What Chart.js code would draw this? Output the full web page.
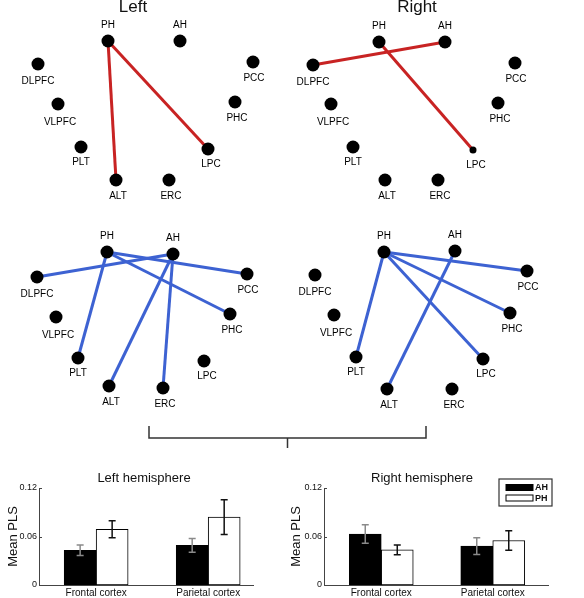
<!DOCTYPE html>
<html>
<head>
<meta charset="utf-8">
<script src="https://cdn.jsdelivr.net/npm/chart.js@4/dist/chart.umd.min.js"></script>
<style>
  body { margin: 0; background: #fff; }
  #wrap { position: relative; width: 584px; height: 598px; overflow: hidden; }
  canvas { position: absolute; }
</style>
</head>
<body>
<div id="wrap">
  <canvas id="netBL" style="left:0;top:210px" width="584" height="250"></canvas>
  <canvas id="netTL" style="left:0;top:0" width="290" height="210"></canvas>
  <canvas id="netTR" style="left:290px;top:0" width="294" height="210"></canvas>
  <canvas id="netBR" style="left:290px;top:210px" width="294" height="210"></canvas>
  <canvas id="barL" style="left:0;top:470px" width="290" height="128"></canvas>
  <canvas id="barR" style="left:278px;top:470px" width="306" height="128"></canvas>
</div>
<script>
// ---- network data (node layout relative to PH, per panel) ----
const nodeNames = ['PH', 'AH', 'PCC', 'PHC', 'LPC', 'ERC', 'ALT', 'PLT', 'VLPFC', 'DLPFC'];
const tlX = [0, 72, 145, 127, 100, 61, 8, -27, -50, -70];
const tlY = [0, 0, 21, 61, 108, 139, 139, 106, 63, 23];
const trX = [0, 66, 136, 119, 94, 59, 6, -26, -48, -66];
const trY = [0, 0, 21, 61, 108, 138, 138, 105, 62, 23];
const blX = [0, 66, 140, 123, 97, 56, 2, -29, -51, -70];
const blY = [0, 2, 22, 62, 109, 136, 134, 106, 65, 25];
const brX = [0, 71, 143, 126, 99, 68, 3, -28, -50, -69];
const brY = [0, -1, 19, 61, 107, 137, 137, 105, 63, 23];

const tlEdges = [['PH', 'ALT'], ['PH', 'LPC']];
const trEdges = [['AH', 'DLPFC'], ['PH', 'LPC']];
const blEdges = [['AH', 'DLPFC'], ['PH', 'PCC'], ['PH', 'PHC'], ['PH', 'PLT'], ['AH', 'ALT'], ['AH', 'ERC']];
const brEdges = [['PH', 'PCC'], ['PH', 'PHC'], ['PH', 'LPC'], ['PH', 'PLT'], ['AH', 'ALT']];

// ---- bar data ----
const categories = ['Frontal cortex', 'Parietal cortex'];
const catPos = [1, 2];
const yTicks = [0, 0.06, 0.12];
const leftAH = [0.043, 0.049];
const leftAHErr = [0.0065, 0.0085];
const leftPH = [0.069, 0.084];
const leftPHErr = [0.0105, 0.0215];
const rightAH = [0.063, 0.048];
const rightAHErr = [0.0115, 0.0103];
const rightPH = [0.0435, 0.055];
const rightPHErr = [0.006, 0.012];

Chart.defaults.font.family = '"Liberation Sans", Arial, sans-serif';
Chart.defaults.color = '#111';

// label offsets (style, px)
const labelDx = [0, 0, 1, 2, 3, 2, 2, 0, 2, 0];
const labelDy = [-16, -16, 16, 16, 15, 16, 16, 15, 18, 17];

const netLabels = {
  id: 'netLabels',
  afterDatasetsDraw(chart, args, opts) {
    const {ctx, scales: {x, y}} = chart;
    ctx.save();
    ctx.fillStyle = '#000';
    ctx.textAlign = 'center';
    ctx.textBaseline = 'middle';
    ctx.font = '10px "Liberation Sans", Arial, sans-serif';
    opts.xs.forEach((nx, i) => {
      ctx.fillText(nodeNames[i], x.getPixelForValue(nx + labelDx[i]), y.getPixelForValue(opts.ys[i] + labelDy[i]));
    });
    if (opts.title) {
      ctx.fillStyle = '#111';
      ctx.font = '17px "Liberation Sans", Arial, sans-serif';
      ctx.fillText(opts.title, x.getPixelForValue(opts.titleX), y.getPixelForValue(opts.titleY));
    }
    if (opts.bracket) {
      const b = opts.bracket;
      ctx.strokeStyle = '#333';
      ctx.lineWidth = 1.5;
      ctx.beginPath();
      ctx.moveTo(b.x1, b.top); ctx.lineTo(b.x1, b.bottom); ctx.lineTo(b.x2, b.bottom); ctx.lineTo(b.x2, b.top);
      ctx.moveTo((b.x1 + b.x2) / 2, b.bottom); ctx.lineTo((b.x1 + b.x2) / 2, b.bottom + 10);
      ctx.stroke();
    }
    ctx.restore();
  }
};

function netChart(id, xs, ys, edges, color, origin, extra) {
  const canvas = document.getElementById(id);
  const idx = n => nodeNames.indexOf(n);
  const small = extra.small || [];
  const datasets = [{
    data: xs.map((v, i) => ({x: v, y: ys[i]})),
    pointRadius: nodeNames.map(n => small.includes(n) ? 3.5 : 6.5),
    pointBackgroundColor: '#000',
    pointBorderWidth: 0
  }];
  edges.forEach(([a, b]) => {
    datasets.push({
      data: [{x: xs[idx(a)], y: ys[idx(a)]}, {x: xs[idx(b)], y: ys[idx(b)]}],
      showLine: true,
      borderColor: color,
      borderWidth: 3,
      pointRadius: 0
    });
  });
  return new Chart(canvas, {
    type: 'scatter',
    data: {datasets},
    options: {
      responsive: false,
      animation: false,
      layout: {padding: 0, autoPadding: false},
      scales: {
        x: {display: false, min: -origin[0], max: canvas.width - origin[0]},
        y: {display: false, reverse: true, min: -origin[1], max: canvas.height - origin[1]}
      },
      plugins: {
        legend: {display: false},
        tooltip: {enabled: false},
        netLabels: Object.assign({xs, ys}, extra)
      }
    },
    plugins: [netLabels]
  });
}

netChart('netTL', tlX, tlY, tlEdges, '#c82323', [108, 41], {title: 'Left', titleX: 25, titleY: -34});
netChart('netTR', trX, trY, trEdges, '#c82323', [89, 42], {title: 'Right', titleX: 38, titleY: -35, small: ['LPC']});
netChart('netBL', blX, blY, blEdges, '#3d62d2', [107, 42], {bracket: {x1: 149, x2: 426, top: 216, bottom: 228}});
netChart('netBR', brX, brY, brEdges, '#3d62d2', [94, 42], {});

// ---- bar charts ----
const barExtras = {
  id: 'barExtras',
  afterDatasetsDraw(chart, args, opts) {
    const {ctx, chartArea, scales: {y}} = chart;
    ctx.save();
    // small inward ticks on the y axis
    ctx.strokeStyle = '#444';
    ctx.lineWidth = 1;
    ctx.beginPath();
    yTicks.forEach(v => {
      const py = Math.round(y.getPixelForValue(v)) + 0.5;
      ctx.moveTo(chartArea.left, py); ctx.lineTo(chartArea.left + 3, py);
    });
    ctx.stroke();
    // error bars
    chart.data.datasets.forEach((ds, d) => {
      const meta = chart.getDatasetMeta(d);
      ctx.strokeStyle = ds.errColor;
      ctx.lineWidth = 1.5;
      meta.data.forEach((bar, i) => {
        const v = ds.data[i].y, e = ds.errors[i];
        const y1 = y.getPixelForValue(v + e), y2 = y.getPixelForValue(v - e);
        ctx.beginPath();
        ctx.moveTo(bar.x, y1); ctx.lineTo(bar.x, y2);
        ctx.moveTo(bar.x - 3.5, y1); ctx.lineTo(bar.x + 3.5, y1);
        ctx.moveTo(bar.x - 3.5, y2); ctx.lineTo(bar.x + 3.5, y2);
        ctx.stroke();
      });
    });
    // title
    ctx.fillStyle = '#111';
    ctx.textAlign = 'center';
    ctx.textBaseline = 'middle';
    ctx.font = '13px "Liberation Sans", Arial, sans-serif';
    ctx.fillText(opts.title, opts.titleX, 8);
    // legend box
    if (opts.legend) {
      const bx = chartArea.right - 49, by = chartArea.top - 9, bw = 53, bh = 27;
      ctx.strokeStyle = '#333';
      ctx.lineWidth = 1.2;
      ctx.strokeRect(bx, by, bw, bh);
      ctx.font = 'bold 9px "Liberation Sans", Arial, sans-serif';
      ctx.textAlign = 'left';
      chart.data.datasets.forEach((ds, d) => {
        const cy = by + 8.5 + d * 10.5;
        ctx.fillStyle = ds.backgroundColor;
        ctx.fillRect(bx + 7, cy - 3, 27, 6);
        ctx.strokeStyle = '#000';
        ctx.lineWidth = 1;
        ctx.strokeRect(bx + 7, cy - 3, 27, 6);
        ctx.fillStyle = '#111';
        ctx.fillText(ds.label, bx + 36, cy + 0.5);
      });
    }
    ctx.restore();
  }
};

function barChart(id, ah, ahErr, ph, phErr, cfg) {
  return new Chart(document.getElementById(id), {
    type: 'bar',
    data: {
      datasets: [
        {label: 'AH', data: catPos.map((c, i) => ({x: c, y: ah[i]})), errors: ahErr, errColor: '#8a8a8a',
         backgroundColor: '#000', borderColor: '#000', borderWidth: 1, borderSkipped: false, barThickness: 32},
        {label: 'PH', data: catPos.map((c, i) => ({x: c, y: ph[i]})), errors: phErr, errColor: '#111',
         backgroundColor: '#fff', borderColor: '#000', borderWidth: 1, borderSkipped: false, barThickness: 32}
      ]
    },
    options: {
      responsive: false,
      animation: false,
      layout: {padding: {top: 18, right: cfg.padRight, left: 0, bottom: 0}},
      scales: {
        x: {
          type: 'linear', offset: false, min: cfg.xMin, max: cfg.xMax,
          grid: {display: false, offset: false, drawTicks: false},
          border: {display: true, color: '#444', width: 1},
          afterBuildTicks: s => { s.ticks = catPos.map(v => ({value: v})); },
          afterFit: s => { s.height = 13; },
          ticks: {autoSkip: false, maxRotation: 0, padding: 2, font: {size: 10}, color: '#111',
                  callback: (v, i) => categories[i]}
        },
        y: {
          min: 0, max: 0.12,
          grid: {display: false, drawTicks: false},
          border: {display: true, color: '#444', width: 1},
          afterBuildTicks: s => { s.ticks = yTicks.map(v => ({value: v})); },
          afterFit: s => { s.width = cfg.yWidth; },
          ticks: {padding: 2, font: {size: 9}, color: '#111'},
          title: {display: true, text: 'Mean PLS', font: {size: 13}, color: '#111', padding: {top: cfg.titlePad, bottom: 0}}
        }
      },
      plugins: {
        legend: {display: false},
        tooltip: {enabled: false},
        barExtras: {title: cfg.title, titleX: cfg.titleX, legend: cfg.legend}
      }
    },
    plugins: [barExtras]
  });
}

barChart('barL', leftAH, leftAHErr, leftPH, leftPHErr,
  {title: 'Left hemisphere', titleX: 144, xMin: 0.49, xMax: 2.4, padRight: 37, yWidth: 39, titlePad: 6, legend: false});
barChart('barR', rightAH, rightAHErr, rightPH, rightPHErr,
  {title: 'Right hemisphere', titleX: 144, xMin: 0.4865, xMax: 2.4955, padRight: 36, yWidth: 46, titlePad: 11, legend: true});
</script>
</body>
</html>
